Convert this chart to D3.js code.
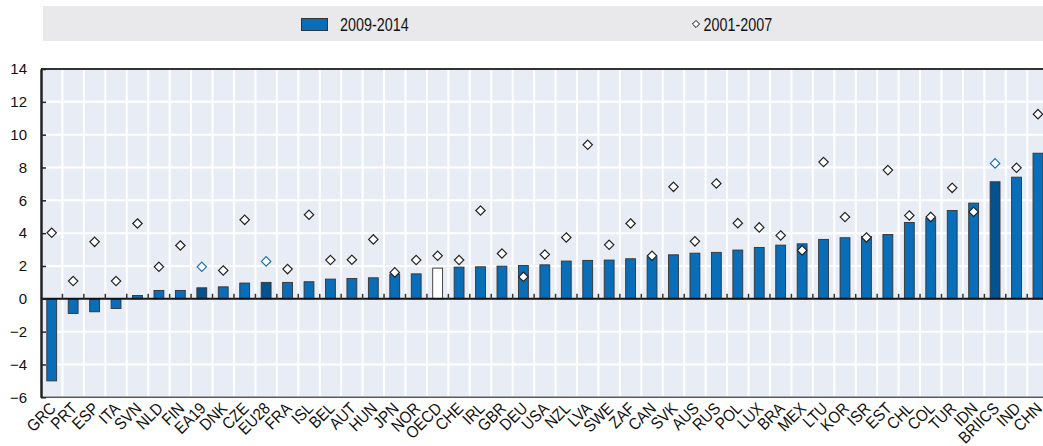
<!DOCTYPE html>
<html>
<head>
<meta charset="utf-8">
<script src="https://cdn.jsdelivr.net/npm/d3@7"></script>
<style>
  html, body { margin: 0; padding: 0; background: #fff; }
  svg { display: block; }
  text { font-family: "Liberation Sans", Arial, sans-serif; fill: #111; }
</style>
</head>
<body>
<svg id="chart" width="1043" height="446"></svg>
<script>
const categories = ["GRC","PRT","ESP","ITA","SVN","NLD","FIN","EA19","DNK","CZE","EU28","FRA","ISL","BEL","AUT","HUN","JPN","NOR","OECD","CHE","IRL","GBR","DEU","USA","NZL","LVA","SWE","ZAF","CAN","SVK","AUS","RUS","POL","LUX","BRA","MEX","LTU","KOR","ISR","EST","CHL","COL","TUR","IDN","BRIICS","IND","CHN"];
const values2009_2014 = [-5.0,-0.89,-0.79,-0.59,0.2,0.51,0.51,0.67,0.73,0.96,1.0,1.0,1.04,1.2,1.24,1.28,1.5,1.52,1.87,1.93,1.95,1.99,2.03,2.07,2.3,2.34,2.36,2.44,2.56,2.68,2.78,2.83,2.97,3.13,3.27,3.35,3.62,3.72,3.8,3.92,4.65,4.9,5.38,5.83,7.13,7.41,8.87];
const values2001_2007 = [4.02,1.08,3.47,1.08,4.59,1.95,3.25,1.95,1.73,4.81,2.28,1.81,5.12,2.36,2.38,3.62,1.61,2.36,2.62,2.36,5.38,2.76,1.34,2.7,3.74,9.38,3.29,4.59,2.62,6.82,3.5,7.03,4.61,4.35,3.86,2.95,8.33,4.98,3.74,7.84,5.08,4.99,6.76,5.3,8.25,7.98,11.25];
const aggregateDark = ["EA19","EU28","BRIICS"];
const highlightWhite = ["OECD"];
const yTicks = [-6,-4,-2,0,2,4,6,8,10,12,14];
const legendLabels = ["2009-2014","2001-2007"];

const svg = d3.select("#chart");
const pLeft = 41, pTop = 69, pBottom = 397.3;
const step = 21.44;
const pRight = pLeft + categories.length * step;

const x = d3.scaleBand().domain(categories).range([pLeft, pRight]).paddingInner(0.54).paddingOuter(0.27);
const y = d3.scaleLinear().domain([-6, 14]).range([pBottom, pTop]);
const boundary = d => x(d) - x.step() * 0.27;

const colBlue = "#0a6db8", colDark = "#04538f", bg = "#e8edf5";

// legend band
svg.append("rect").attr("x", 43).attr("y", 6).attr("width", 1000).attr("height", 35).attr("fill", "#e9e9ec");
svg.append("rect").attr("x", 301.5).attr("y", 18.5).attr("width", 26).attr("height", 12)
  .attr("fill", colBlue).attr("stroke", "#333").attr("stroke-width", 1);
svg.append("text").attr("transform", "translate(340,30.5) scale(0.82,1)")
  .style("font-size", "17.5px").text(legendLabels[0]);
svg.append("path").attr("d", d3.symbol(d3.symbolDiamond2, 32)()).attr("transform", "translate(696,24)")
  .attr("fill", "#fff").attr("stroke", "#111").attr("stroke-width", 1);
svg.append("text").attr("transform", "translate(703.5,30.5) scale(0.82,1)")
  .style("font-size", "17.5px").text(legendLabels[1]);

// plot background
svg.append("rect").attr("x", pLeft).attr("y", pTop).attr("width", pRight - pLeft).attr("height", pBottom - pTop).attr("fill", bg);

// gridlines
const g = svg.append("g");
g.selectAll("line.hg").data(yTicks).join("line").attr("class", "hg")
  .attr("x1", pLeft).attr("x2", pRight).attr("y1", d => y(d)).attr("y2", d => y(d))
  .attr("stroke", "#fff").attr("stroke-width", 2);
g.selectAll("line.vg").data(categories.slice(1)).join("line").attr("class", "vg")
  .attr("x1", boundary).attr("x2", boundary)
  .attr("y1", pTop).attr("y2", pBottom)
  .attr("stroke", "#fff").attr("stroke-width", 2);

// frame
svg.append("line").attr("x1", pLeft).attr("x2", pRight).attr("y1", pTop).attr("y2", pTop).attr("stroke", "#333").attr("stroke-width", 2);
svg.append("line").attr("x1", pLeft).attr("x2", pRight).attr("y1", pBottom).attr("y2", pBottom).attr("stroke", "#555").attr("stroke-width", 1.5);

// bars
svg.append("g").selectAll("rect").data(categories).join("rect")
  .attr("x", d => x(d))
  .attr("width", x.bandwidth())
  .attr("y", (d, i) => y(Math.max(0, values2009_2014[i])))
  .attr("height", (d, i) => Math.abs(y(values2009_2014[i]) - y(0)))
  .attr("fill", d => highlightWhite.includes(d) ? "#fff" : aggregateDark.includes(d) ? colDark : colBlue)
  .attr("stroke", "#333").attr("stroke-width", 0.9);

// zero line + ticks
svg.append("line").attr("x1", pLeft).attr("x2", pRight).attr("y1", y(0)).attr("y2", y(0)).attr("stroke", "#111").attr("stroke-width", 2);
svg.append("g").selectAll("line").data(categories.slice(1)).join("line")
  .attr("x1", boundary).attr("x2", boundary)
  .attr("y1", y(0)).attr("y2", y(0) - 5)
  .attr("stroke", "#333").attr("stroke-width", 1.5);

// y axis
const yAxis = d3.axisLeft(y).tickValues(yTicks).tickSizeInner(-5).tickSizeOuter(0).tickPadding(14).tickFormat(d3.format("d"));
const ya = svg.append("g").attr("transform", `translate(${pLeft},0)`).call(yAxis);
ya.select(".domain").attr("stroke", "#222").attr("stroke-width", 2.5);
ya.selectAll(".tick line").attr("stroke", "#222").attr("stroke-width", 1.5);
ya.selectAll(".tick text").style("font-size", "15px").attr("fill", "#111").style("font-family", "'Liberation Sans', Arial, sans-serif");

// diamonds
svg.append("g").selectAll("path").data(categories).join("path")
  .attr("d", d3.symbol(d3.symbolDiamond2, 56)())
  .attr("transform", (d, i) => `translate(${x(d) + x.bandwidth() / 2},${y(values2001_2007[i])})`)
  .attr("fill", "#fff")
  .attr("stroke", d => aggregateDark.includes(d) ? "#1a6fb5" : "#222")
  .attr("stroke-width", 1.2);

// x labels
const xAxis = d3.axisBottom(x).tickSize(0).tickPadding(0);
const xa = svg.append("g").attr("transform", `translate(0,${pBottom})`).call(xAxis);
xa.select(".domain").remove();
xa.selectAll(".tick text")
  .attr("text-anchor", "end")
  .attr("transform", "translate(1,8) rotate(-45) scale(0.9,1)")
  .attr("dy", "0.35em").attr("y", 0).attr("x", 0)
  .style("font-size", "16.5px").attr("fill", "#111")
  .style("font-family", "'Liberation Sans', Arial, sans-serif");
</script>
</body>
</html>
